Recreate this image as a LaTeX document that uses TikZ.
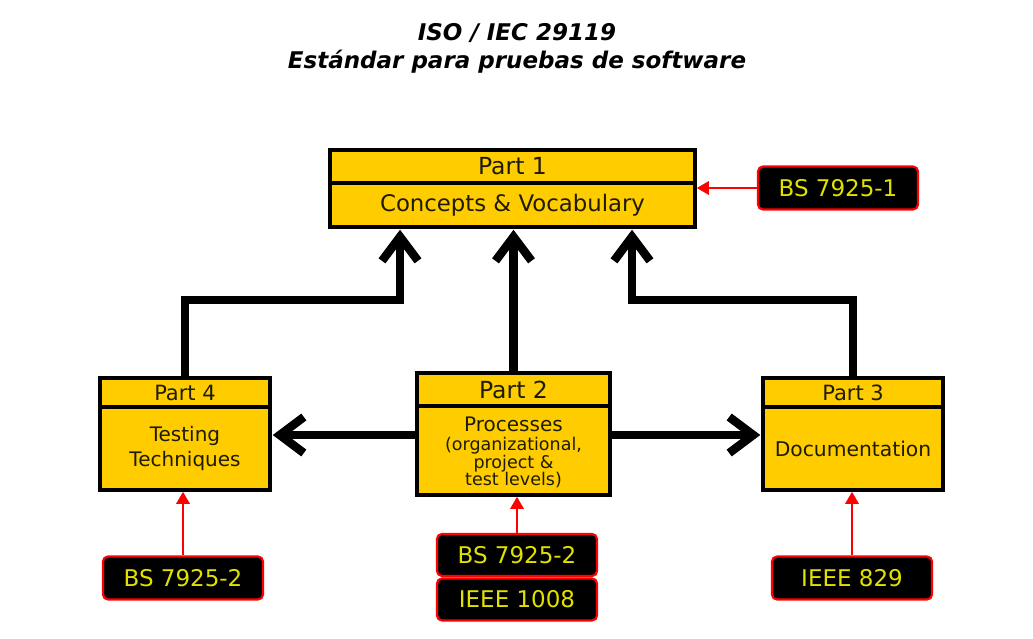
\documentclass[tikz,border=0pt]{standalone}
\usepackage{fontspec}
\setmainfont{DejaVu Sans}
\usetikzlibrary{arrows.meta}
\definecolor{partyellow}{RGB}{255,204,0}
\definecolor{tagtext}{RGB}{225,225,0}
\definecolor{tagred}{RGB}{255,0,0}
\definecolor{darktext}{RGB}{30,28,0}
\begin{document}
\begin{tikzpicture}[x=1pt,y=-1pt,
  partbox/.style={draw=black, line width=3.5pt, fill=partyellow, inner sep=0pt, align=center, text=darktext},
  tagbox/.style={draw=tagred, line width=2.2pt, fill=black, rounded corners=5pt, inner sep=0pt,
    minimum width=160pt, minimum height=43pt, text=tagtext, font=\fontsize{23}{26}\selectfont},
  bigarrow/.style={draw=black, line width=8.5pt, line join=miter,
    -{Straight Barb[length=24pt, width=36pt, line width=8.5pt]}, shorten >=1pt},
  redarrow/.style={draw=tagred, line width=2.8pt, -{Triangle[length=12pt, width=13pt]}}
]
\useasboundingbox (0,0) rectangle (1033,639);
% title
\node[align=center, font=\fontsize{23}{28}\selectfont\bfseries\itshape] (title) at (517,48)
  {ISO / IEC 29119\\Estándar para pruebas de software};
% Part 1
\node[partbox, minimum width=365pt, minimum height=33pt, font=\fontsize{23.5}{26}\selectfont] (p1h) at (512.5,166.5) {Part 1};
\node[partbox, minimum width=365pt, minimum height=44pt, font=\fontsize{22.8}{26}\selectfont] (p1b) at (512.5,205) {Concepts \& Vocabulary};
% Part 4
\node[partbox, minimum width=170pt, minimum height=29pt, font=\fontsize{21}{22}\selectfont] (p4h) at (185,392.5) {Part 4};
\node[partbox, minimum width=170pt, minimum height=83pt, font=\fontsize{20}{25}\selectfont] (p4b) at (185,448.5) {Testing\\Techniques};
% Part 2
\node[partbox, minimum width=193pt, minimum height=33pt, font=\fontsize{23.5}{24}\selectfont] (p2h) at (513.5,389.5) {Part 2};
\node[partbox, minimum width=193pt, minimum height=89pt, font=\fontsize{17.5}{19}\selectfont] (p2b) at (513.5,450.5)
  {\raisebox{-8pt}[0pt][0pt]{\begin{tabular}{@{}c@{}}{\fontsize{20}{19}\selectfont Processes}\\[0pt](organizational,\\[-1pt]project \&\\[-2pt]test levels)\end{tabular}}};
% Part 3
\node[partbox, minimum width=180pt, minimum height=29pt, font=\fontsize{21}{22}\selectfont] (p3h) at (853,392.5) {Part 3};
\node[partbox, minimum width=180pt, minimum height=83pt, font=\fontsize{20.3}{22}\selectfont] (p3b) at (853,448.5) {Documentation};
% tags
\node[tagbox] (t1) at (838,188) {BS 7925-1};
\node[tagbox] (t4) at (183,578) {BS 7925-2};
\node[tagbox, minimum height=42pt] (t2a) at (517,555) {BS 7925-2};
\node[tagbox, minimum height=42pt] (t2b) at (517,599.5) {IEEE 1008};
\node[tagbox] (t3) at (852,578) {IEEE 829};
% thick connectors
\coordinate (j4) at (400,300);
\coordinate (j3) at (632,300);
\coordinate (hy) at (0,435);
\draw[bigarrow] (p4h.north) |- (j4) -- (j4 |- p1b.south);
\draw[bigarrow] (p3h.north) |- (j3) -- (j3 |- p1b.south);
\draw[bigarrow] (p2h.north) -- (p2h.north |- p1b.south);
\draw[bigarrow] (p2b.west |- hy) -- (p4b.east |- hy);
\draw[bigarrow] (p2b.east |- hy) -- (p3b.west |- hy);
% red connectors
\draw[redarrow] (t1.west) -- (t1.west -| p1b.east);
\draw[redarrow] (t4.north) -- (t4.north |- p4b.south);
\draw[redarrow] (t2a.north) -- (t2a.north |- p2b.south);
\draw[redarrow] (t3.north) -- (t3.north |- p3b.south);
\end{tikzpicture}
\end{document}
